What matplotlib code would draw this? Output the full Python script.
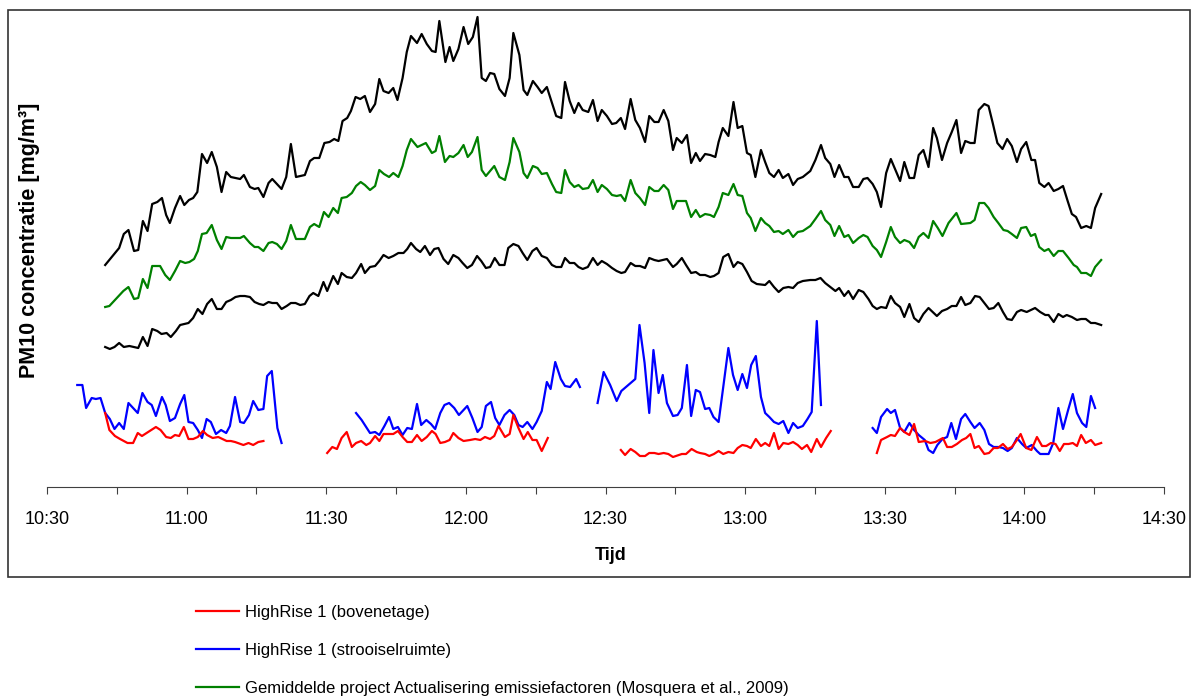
import numpy as np
import matplotlib
matplotlib.use("Agg")
import matplotlib.pyplot as plt
from matplotlib.patches import Rectangle

plt.rcParams['font.family'] = ['Liberation Sans', 'DejaVu Sans']

# time in minutes after 10:30, concentration in relative units (no y scale shown)
tick_pos = [0, 30, 60, 90, 120, 150, 180, 210, 240]
tick_labels = ["10:30", "11:00", "11:30", "12:00", "12:30", "13:00", "13:30", "14:00", "14:30"]

# upper black line
upper_t = [12.5,15.5,16.5,17.5,18.7,19.6,20.6,21.6,22.6,23.7,24.7,25.6,26.4,27.5,28.6,29.5,30.5,31.4,32.3,33.3,
           34.4,35.4,36.5,37.5,38.5,39.5,41.5,42.3,43.6,44.6,45.4,46.5,47.6,48.4,50.4,51.4,52.4,53.5,55.4,56.5,
           57.4,58.5,59.6,60.7,61.7,62.6,63.5,64.5,65.3,66.3,67.3,68.3,69.4,70.5,71.4,72.3,73.4,74.4,75.3,76.4,
           77.3,78.2,79.5,80.5,81.6,82.7,83.5,84.3,85.6,86.5,87.3,88.4,89.5,90.5,91.5,92.5,93.4,94.3,95.2,96.1,
           97.2,98.4,99.4,100.2,101.5,102.4,103.2,104.4,105.4,106.3,107.4,108.5,109.4,110.5,111.3,112.3,113.3,114.2,115.1,116.3,
           117.3,118.3,119.2,120.3,121.4,122.3,123.3,124.2,125.4,126.4,127.4,128.5,129.4,130.5,131.4,132.5,133.5,134.5,135.3,136.4,
           137.5,138.4,139.4,140.3,141.4,142.5,143.6,144.3,145.2,146.4,147.5,148.4,149.4,150.4,151.2,152.2,153.4,154.3,155.2,156.2,
           157.2,158.1,159.3,160.3,161.3,162.4,164.0,165.1,166.3,167.2,168.3,169.2,170.2,171.3,172.2,173.2,174.4,175.4,176.3,177.4,
           178.3,179.2,180.3,181.3,182.2,183.3,184.2,185.3,186.3,187.3,188.3,189.4,190.4,191.2,192.3,193.4,194.4,195.4,196.4,197.3,
           198.4,199.3,200.2,201.4,202.3,203.2,204.2,205.3,206.3,207.3,208.4,209.3,210.4,211.5,212.3,213.2,214.3,215.2,216.3,217.3,
           218.3,219.3,220.2,221.1,222.2,223.3,224.3,225.2,226.5]
upper_v = [222,239,253,257,236,237,266,256,283,285,289,272,264,279,291,282,287,289,295,333,
           324,335,320,295,315,310,308,312,300,298,299,290,304,308,298,310,343,310,312,326,
           329,329,344,345,348,346,366,369,376,390,388,391,375,383,408,396,394,399,387,409,
           435,451,444,453,443,436,435,466,425,440,426,438,460,443,450,470,409,406,414,413,
           398,391,409,454,432,397,392,406,400,394,400,384,371,369,405,386,374,384,377,375,
           387,366,377,371,363,364,369,358,388,367,359,345,371,365,365,377,366,337,349,344,
           352,324,334,326,333,332,330,345,359,351,385,359,361,334,332,310,337,325,314,310,
           317,309,313,302,308,310,316,327,342,329,323,310,322,310,310,300,300,308,309,303,
           295,280,314,328,318,306,325,309,309,332,337,320,359,349,327,344,355,367,334,346,
           344,344,377,383,381,364,344,338,348,341,325,338,345,327,327,304,300,304,296,298,
           301,286,273,270,259,261,259,279,293]

# green line (average project Actualisering emissiefactoren)
green_t = [12.5,13.4,15.0,16.4,17.5,18.7,19.6,20.6,21.6,22.6,24.3,25.4,26.4,27.5,28.6,29.7,30.6,31.6,32.4,33.3,
           34.3,35.4,36.5,37.5,38.5,39.5,41.5,42.3,43.6,44.6,45.4,46.5,47.6,48.4,49.4,50.4,51.4,52.4,53.5,55.4,
           56.5,57.4,58.5,59.5,60.5,61.5,62.5,63.3,64.4,65.5,66.4,67.4,68.3,69.4,70.5,71.4,72.4,73.5,74.4,75.5,
           76.4,77.3,78.2,79.6,80.5,81.4,82.7,83.5,84.3,85.5,86.5,87.3,88.4,89.5,90.4,91.3,92.5,93.4,94.3,96.1,
           97.2,98.4,99.4,100.2,101.5,102.4,103.2,104.4,105.4,106.3,107.4,108.5,109.4,110.5,111.3,112.3,113.3,114.2,115.1,116.3,
           117.3,118.3,119.2,120.3,121.4,122.4,123.3,124.2,125.4,126.4,127.4,128.5,129.4,130.5,131.4,132.5,133.5,134.5,135.3,137.3,
           138.4,139.4,140.3,141.4,142.5,143.3,144.3,145.2,146.4,147.5,148.4,149.4,150.4,151.2,152.2,153.4,154.3,155.2,156.2,157.2,
           158.1,159.3,160.3,161.3,162.4,164.0,165.1,166.3,167.2,168.3,169.2,170.2,171.3,172.2,173.2,174.4,175.4,176.3,177.4,178.3,
           179.2,180.3,181.3,182.2,183.3,184.2,185.3,186.3,187.3,188.3,189.4,190.4,191.4,192.4,193.7,195.4,196.4,198.4,199.3,200.3,
           201.4,202.3,203.4,204.4,205.5,206.4,207.3,208.4,209.3,210.4,211.4,212.3,213.2,214.3,215.2,216.3,217.3,218.3,219.5,220.6,
           221.3,222.2,223.3,224.3,225.2,226.5]
green_v = [180,181,189,196,200,188,189,208,199,221,221,212,207,216,226,224,225,228,236,253,
           254,262,247,238,250,249,249,251,244,240,240,236,244,245,243,238,246,262,248,248,
           260,263,260,275,270,279,274,289,290,294,301,305,302,297,301,317,313,310,314,310,
           321,337,348,340,342,344,334,336,351,325,331,330,334,342,330,335,350,317,311,321,
           310,307,325,349,335,314,309,321,319,313,314,303,295,294,317,305,300,302,298,299,
           307,295,302,298,292,291,292,286,307,294,289,282,300,296,296,302,297,278,286,286,
           270,277,270,273,272,270,280,294,292,303,292,291,274,269,256,269,264,261,255,256,
           253,257,250,255,256,261,268,276,267,262,251,261,250,252,244,249,252,250,241,237,
           230,245,260,250,244,247,245,239,250,254,249,266,259,251,264,274,263,264,267,284,
           284,279,270,264,257,256,253,249,259,260,251,253,240,236,238,231,236,236,229,222,
           220,214,214,211,220,227]

# lower black line
lower_t = [12.5,13.5,14.5,15.5,16.5,17.7,19.6,20.6,21.6,22.6,23.7,24.6,25.7,26.6,27.7,28.6,30.4,31.4,32.4,33.4,
           34.4,35.4,36.5,37.5,38.5,39.5,40.5,41.5,42.5,43.6,44.6,45.6,46.5,47.6,48.4,49.4,50.4,51.5,52.4,53.4,
           54.4,55.4,56.4,57.2,58.3,59.4,60.2,61.5,62.5,63.3,64.4,65.5,66.4,67.5,68.3,69.4,70.5,71.4,72.3,73.4,
           74.4,75.5,76.6,77.4,78.2,79.3,80.2,81.2,82.3,83.2,84.1,85.2,86.2,87.3,88.4,89.3,90.3,91.3,92.4,93.3,
           94.3,95.2,96.2,97.2,98.3,99.1,100.2,101.3,102.2,103.2,104.3,105.2,106.3,107.4,108.5,109.4,110.5,111.3,112.3,113.3,
           114.2,115.1,116.2,117.3,118.3,119.2,120.3,121.4,122.4,123.4,124.2,125.4,126.4,127.4,128.5,129.4,130.5,131.4,133.2,134.5,
           135.3,136.4,137.3,138.4,139.4,140.3,141.4,142.5,143.3,144.3,145.3,146.4,147.5,148.4,149.4,150.4,151.4,152.5,154.3,155.2,
           156.2,157.2,158.2,159.3,160.3,161.3,162.4,164.0,165.1,166.2,167.2,168.3,169.4,170.2,171.3,172.2,173.2,174.4,175.4,176.5,
           177.4,178.3,179.2,180.3,181.3,182.2,183.3,184.2,185.3,186.3,187.3,188.3,189.4,191.2,192.3,193.4,194.4,195.4,196.4,197.3,
           198.4,199.4,200.4,201.4,202.4,203.4,204.4,205.4,206.3,207.3,208.4,209.3,210.5,212.3,213.4,214.5,215.2,216.3,217.3,218.3,
           219.1,220.2,221.3,222.2,223.2,224.3,225.2,226.5]
lower_v = [140,138,140,144,140,141,139,150,141,158,156,153,154,150,156,162,164,169,178,173,
           183,188,178,178,185,187,190,191,191,190,185,183,182,185,184,184,178,181,184,184,
           182,183,191,194,191,205,196,211,203,214,210,209,214,223,214,220,221,226,232,229,
           231,234,234,238,244,238,235,241,232,238,239,228,223,232,229,224,219,222,231,226,
           219,220,229,222,222,239,243,241,234,227,236,239,231,229,222,220,220,229,224,224,
           220,218,220,229,222,226,223,219,216,214,215,224,221,221,219,229,227,226,228,220,
           223,229,222,214,215,212,212,210,211,214,230,233,220,225,223,215,206,203,202,206,
           200,195,199,200,199,204,206,207,207,209,204,200,196,199,191,196,188,197,195,188,
           181,178,180,179,191,184,180,170,183,169,165,173,179,171,176,178,181,181,190,182,
           184,191,190,184,178,179,184,175,168,167,175,177,175,179,175,172,172,165,173,170,
           172,170,167,168,168,164,164,162]

# HighRise 1 (strooiselruimte), measured in four blocks
blue_t = [
    [6.5,7.6,8.4,9.6,10.5,11.5,12.5,13.5,14.5,15.5,16.5,17.5,18.5,19.5,20.5,21.6,22.5,23.4,24.7,25.5,
     26.4,27.5,28.6,29.5,30.4,31.4,32.4,33.3,34.3,35.2,36.3,37.4,38.5,39.3,40.4,41.5,42.3,43.4,44.3,45.4,
     46.5,47.3,48.3,49.5,50.4],
    [66.4,67.6,69.4,70.5,71.4,72.5,73.5,74.4,75.4,76.4,77.4,78.4,79.5,80.4,81.5,82.5,83.4,84.5,85.4,86.4,
     87.5,88.5,90.3,91.4,92.5,93.4,94.3,95.4,96.3,97.2,98.3,99.4,100.4,101.3,102.2,103.2,104.3,105.2,106.3,107.4,
     108.2,109.2,110.4,111.3,112.4,113.7,114.5],
    [118.3,119.6,121.0,122.4,123.4,124.4,125.4,126.4,127.3,128.4,129.4,130.3,131.4,132.3,133.2,134.5,135.5,136.4,137.5,138.4,
     139.4,140.3,141.4,142.3,143.2,144.3,145.3,146.4,147.4,148.4,149.4,150.4,151.3,152.3,153.4,154.3,155.2,156.2,157.2,158.2,
     159.3,160.3,161.3,162.4,163.4,164.3,165.4,166.3],
    [177.4,178.3,179.2,180.5,181.3,182.2,183.3,184.2,185.3,186.3,187.3,188.6,189.4,190.4,191.3,192.4,193.4,194.3,195.3,196.4,
     197.3,198.4,199.3,200.4,201.4,202.4,203.4,204.4,205.4,206.4,207.3,208.4,209.5,210.4,211.6,212.7,213.4,215.2,216.2,217.3,
     218.3,219.4,220.4,221.3,222.4,223.3,224.3,225.2],
]
blue_v = [
    [102,102,79,89,88,89,74,68,58,64,58,84,79,74,94,85,82,71,90,82,
     66,69,83,92,65,64,57,49,68,65,53,57,54,61,90,65,64,72,86,77,
     78,111,116,59,44],
    [74,67,54,55,52,61,70,58,60,52,59,58,83,62,67,63,58,74,82,84,
     79,72,81,69,55,60,81,85,69,62,72,77,72,62,60,65,58,65,76,105,
     98,125,108,101,100,108,100],
    [84,115,102,86,96,100,104,108,162,124,74,137,94,112,84,71,72,79,122,71,
     97,95,78,79,70,65,100,139,112,97,113,99,122,131,90,74,70,65,63,66,
     54,64,59,61,68,75,166,82],
    [59,54,70,78,74,77,59,55,64,57,52,47,37,34,42,48,50,64,48,68,
     73,65,59,64,57,43,40,40,39,36,39,49,43,39,42,36,33,33,44,79,
     58,77,93,74,64,60,91,79],
]

# HighRise 1 (bovenetage), measured in four blocks
red_t = [
    [12.5,13.4,14.6,15.7,17.3,18.5,19.5,20.4,21.4,23.4,24.4,25.6,26.6,27.5,28.4,29.4,30.4,31.4,32.4,33.5,
     34.4,35.6,36.8,38.6,39.5,40.4,42.2,43.3,44.3,45.4,46.5],
    [60.2,61.3,62.3,63.3,64.4,65.5,66.4,67.5,68.6,69.4,70.5,71.4,72.3,73.4,74.4,75.4,76.4,77.4,78.4,79.5,
     80.5,81.6,82.7,83.5,84.5,85.5,86.5,87.3,88.4,89.5,90.9,92.0,93.1,94.1,95.2,96.1,97.0,98.4,99.4,100.2,
     101.3,102.4,103.3,104.3,105.2,106.3,107.6],
    [123.3,124.2,125.4,126.4,127.4,128.5,129.4,130.5,131.4,132.5,133.5,134.5,136.4,137.3,138.5,139.6,140.3,141.4,142.3,143.3,
     144.3,145.3,146.4,147.5,148.4,149.4,150.4,151.2,152.3,153.4,154.3,155.2,156.2,157.2,158.2,159.3,160.3,161.3,162.2,163.3,
     164.2,165.4,166.3,167.4,168.4],
    [178.3,179.2,180.5,181.3,182.2,183.3,184.2,185.3,186.3,187.3,188.7,189.8,190.9,192.5,193.4,194.4,195.5,196.6,197.5,198.4,
     199.3,200.2,201.4,202.4,203.4,204.3,205.4,206.4,207.3,208.4,209.2,210.4,211.5,212.7,213.8,214.7,215.7,216.7,217.6,218.5,
     219.5,220.4,221.3,222.2,223.2,224.3,225.2,226.5],
]
red_v = [
    [74,57,51,48,44,44,54,51,54,60,57,50,49,52,51,60,48,48,50,56,
     52,49,50,46,46,45,42,44,42,45,46],
    [34,40,38,49,55,40,44,46,42,44,51,46,53,53,53,56,50,45,45,52,
     46,50,56,53,44,45,47,54,49,46,47,48,47,50,48,51,61,50,53,72,
     59,48,55,47,47,36,49],
    [37,32,38,35,31,31,34,34,33,34,33,30,33,33,38,35,34,33,31,33,
     36,33,35,34,39,42,41,39,48,41,44,41,54,38,44,43,45,42,38,42,
     35,48,40,49,56],
    [34,47,50,52,51,59,55,52,63,45,46,44,45,49,40,40,43,47,49,53,
     39,41,33,34,39,39,43,38,40,47,53,39,37,50,41,41,44,43,36,43,
     43,44,41,52,44,47,42,44],
]

W, H = 1200, 700
fig = plt.figure(figsize=(12, 7), dpi=100)
ax = fig.add_axes([47 / W, 1 - 487 / H, 1117 / W, 477 / H])

lw = 1.6
ax.plot(upper_t, upper_v, color='black', lw=lw)
green_line, = ax.plot(green_t, green_v, color='#008000', lw=lw)
ax.plot(lower_t, lower_v, color='black', lw=lw)
for i in range(len(blue_t)):
    blue_line, = ax.plot(blue_t[i], blue_v[i], color='#0000FF', lw=lw)
for i in range(len(red_t)):
    red_line, = ax.plot(red_t[i], red_v[i], color='#FF0000', lw=lw)

ax.set_xlim(0, 240)
ax.set_ylim(0, 477)
for s in ['left', 'right', 'top']:
    ax.spines[s].set_visible(False)
ax.spines['bottom'].set_color('#404040')
ax.spines['bottom'].set_linewidth(0.8)
ax.set_yticks([])
ax.set_xticks(tick_pos)
ax.set_xticklabels(tick_labels, fontsize=13)
ax.set_xticks([15, 45, 75, 105, 135, 165, 195, 225], minor=True)
ax.tick_params(axis='x', which='both', direction='out', length=5, width=0.8,
               color='#404040', pad=12)

fig.text(611 / W, 1 - 555 / H, 'Tijd', fontsize=13, fontweight='bold',
         ha='center', va='center')
fig.text(30 / W, 1 - 240 / H, 'PM10 concentratie [mg/m³]', fontsize=15.5,
         fontweight='bold', rotation=90, ha='center', va='center')

# chart frame
fig.add_artist(Rectangle((8 / W, 1 - 577 / H), 1182 / W, 567 / H,
                         transform=fig.transFigure, fill=False,
                         lw=1.2, ec='#333333'))

fig.legend([red_line, blue_line, green_line],
           ['HighRise 1 (bovenetage)', 'HighRise 1 (strooiselruimte)',
            'Gemiddelde project Actualisering emissiefactoren (Mosquera et al., 2009)'],
           loc='upper left', bbox_to_anchor=(196 / W, 1 - 605 / H),
           frameon=False, fontsize=12, handlelength=2.6, handletextpad=0.35,
           labelspacing=1.38, borderpad=0, borderaxespad=0)

fig.savefig('out.png', dpi=100)
